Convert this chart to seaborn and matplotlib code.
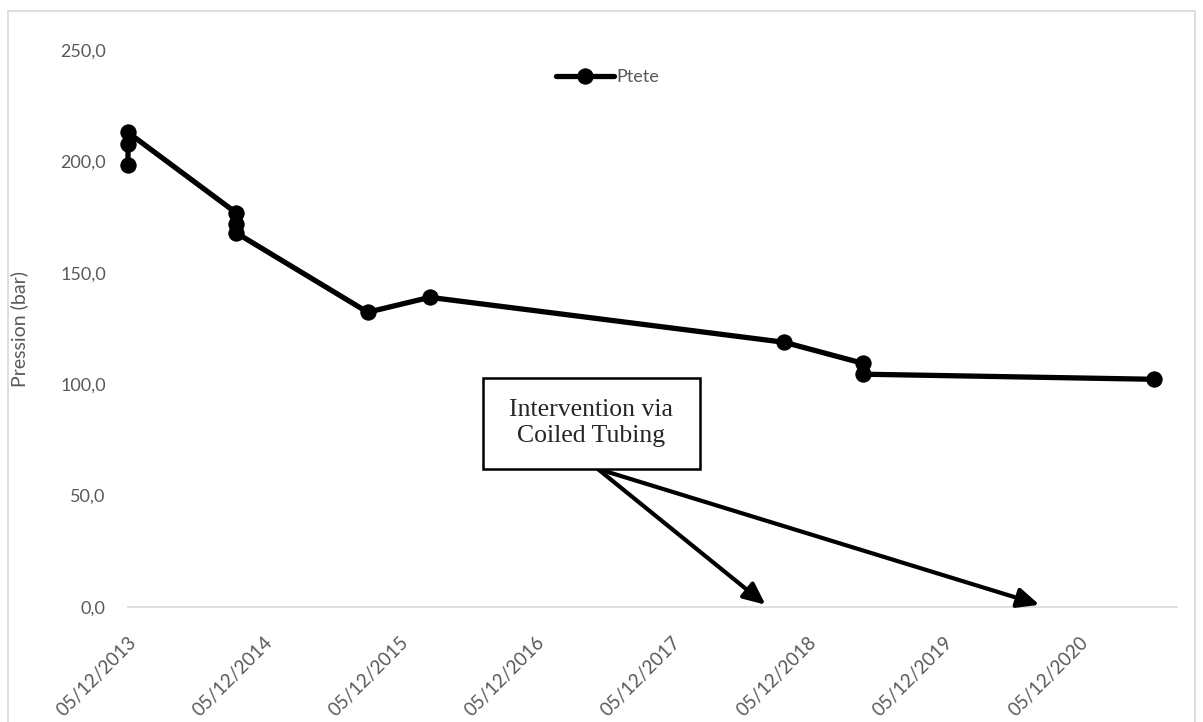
import matplotlib.pyplot as plt
import matplotlib.ticker as mticker
import matplotlib.dates as mdates
from matplotlib.patches import Rectangle
import seaborn as sns
import pandas as pd

# données
dates = ['2013-12-05', '2013-12-05', '2013-12-05',
         '2014-09-21', '2014-09-21', '2014-09-21',
         '2015-09-10', '2016-02-24', '2018-10-04',
         '2019-05-02', '2019-05-02', '2021-06-24']
ptete = [198.5, 208.0, 213.0, 177.0, 172.0, 168.0,
         132.3, 139.0, 118.8, 109.4, 104.5, 102.2]

tick_dates = ['2013-12-05', '2014-12-05', '2015-12-05', '2016-12-05',
              '2017-12-05', '2018-12-05', '2019-12-05', '2020-12-05']
x_limits = ['2013-12-05', '2021-08-25']
y_ticks = [0, 50, 100, 150, 200, 250]

# annotation "Intervention via Coiled Tubing"
note_text = 'Intervention via\nCoiled Tubing'
note_box_dates = ['2016-07-15', '2018-02-18']
note_box_values = [62, 103]
arrow_start = ('2017-05-20', 62)
arrow_tips = [('2018-08-14', 1), ('2020-08-19', 1)]

df = pd.DataFrame({'date': pd.to_datetime(dates), 'Ptete': ptete})

sns.set_theme(style='white')
plt.rcParams['font.family'] = ['Lato', 'DejaVu Sans']

grey = '#595959'
light = '#d9d9d9'

fig = plt.figure(figsize=(12.03, 7.22), dpi=100)
ax = fig.add_axes([0.1064, 0.1593, 0.8724, 0.7714])

sns.lineplot(data=df, x='date', y='Ptete', ax=ax, color='black', lw=3.8,
             marker='o', markersize=11, markeredgecolor='black',
             estimator=None, sort=False, label='Ptete', clip_on=False, zorder=5)

ax.set_ylim(0, 250)
ax.set_yticks(y_ticks)
ax.yaxis.set_major_formatter(mticker.FuncFormatter(lambda v, p: f"{v:.1f}".replace('.', ',')))
ax.set_xlim(pd.to_datetime(x_limits[0]), pd.to_datetime(x_limits[1]))
ticks = pd.to_datetime(tick_dates)
ax.set_xticks(ticks)
ax.set_xticklabels([t.strftime('%d/%m/%Y') for t in ticks], rotation=45,
                   ha='right', rotation_mode='anchor')

for s in ['top', 'right', 'left']:
    ax.spines[s].set_visible(False)
ax.spines['bottom'].set_color(light)
ax.spines['bottom'].set_linewidth(1.2)

ax.tick_params(axis='y', length=0, pad=16, labelsize=13, labelcolor=grey)
ax.tick_params(axis='x', length=7, width=1.2, color=light, pad=12,
               labelsize=13.5, labelcolor=grey)

ax.set_xlabel('')
ax.set_ylabel('Pression (bar)', fontsize=14, color=grey)
ax.yaxis.set_label_coords(-0.095, 0.5)

ax.legend(loc='center', bbox_to_anchor=(0.505, 0.893), bbox_transform=fig.transFigure,
          frameon=False, handlelength=3.2, handletextpad=0.1, fontsize=13,
          labelcolor=grey)

# boîte de texte et flèches
bx0, bx1 = [mdates.date2num(pd.to_datetime(d)) for d in note_box_dates]
by0, by1 = note_box_values
ax.add_patch(Rectangle((bx0, by0), bx1 - bx0, by1 - by0, fc='white', ec='black',
                       lw=1.8, zorder=6))
ax.text((bx0 + bx1) / 2, (by0 + by1) / 2, note_text, ha='center', va='center',
        family='Liberation Serif', fontsize=18.5, linespacing=1.2, zorder=7)
for tip_date, tip_val in arrow_tips:
    ax.annotate('', xy=(pd.to_datetime(tip_date), tip_val),
                xytext=(pd.to_datetime(arrow_start[0]), arrow_start[1]),
                arrowprops=dict(arrowstyle='-|>,head_length=1.1,head_width=0.5',
                                color='black', lw=3, shrinkA=0, shrinkB=0))

# cadre du graphique
fig.patches.append(Rectangle((8 / 1203, -0.05), 1187 / 1203, 1.05 - 11 / 722,
                             transform=fig.transFigure, fill=False,
                             ec=light, lw=1.2))

fig.savefig('out.png', dpi=100)
